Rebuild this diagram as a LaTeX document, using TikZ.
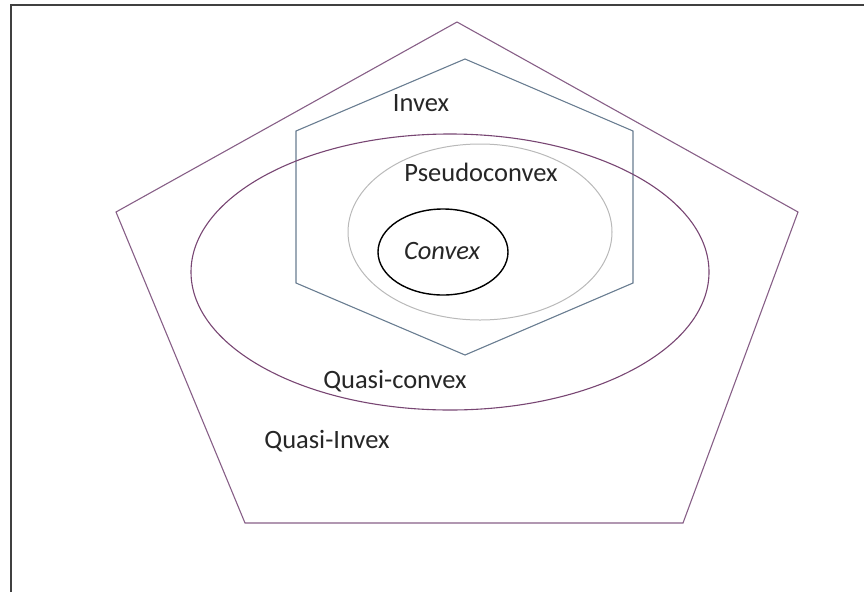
\documentclass[tikz,border=0pt]{standalone}
\usepackage{fontspec}
\setmainfont{Carlito}
\usepackage{xcolor}
\usepackage{tikz}

\definecolor{penta}{RGB}{135,95,135}
\definecolor{hexa}{RGB}{105,125,145}
\definecolor{quasi}{RGB}{120,70,115}
\definecolor{pseudo}{RGB}{185,185,185}

\begin{document}
\begin{tikzpicture}[x=1pt,y=-1pt,
    classname/.style={font=\fontsize{26.5}{31}\selectfont, text=black!85}]
    \useasboundingbox (0,0) rectangle (864,592);
    % Draw the frame (only top and left sides are visible)
    \draw [line width=2pt,black!75] (11,592) -- (11,5) -- (864,5);
    % Draw the pentagon for quasi-invex functions
    \draw [penta,line width=1.1pt] (457,22) coordinate (p_1)
        -- (798,212) coordinate (p_2)
        -- (683,523) coordinate (p_3)
        -- (245,523) coordinate (p_4)
        -- (116,212) coordinate (p_5) -- cycle;
    % Draw the hexagon for invex functions
    \draw [hexa,line width=1.1pt] (465,59) coordinate (h_1)
        -- (633,131) coordinate (h_2)
        -- (633,283) coordinate (h_3)
        -- (465,355) coordinate (h_4)
        -- (296,283) coordinate (h_5)
        -- (296,131) coordinate (h_6) -- cycle;
    % Draw the ellipses
    \draw [quasi,line width=1.1pt] (450,272) ellipse (259 and 138);
    \draw [pseudo,line width=1pt] (480,232) ellipse (132 and 88);
    \draw [black,line width=1.4pt] (443,252) ellipse (65 and 43);
    % Put the class names
    \node (invex) [classname] at (421,103) {Invex};
    \node (pseudoconvex) [classname] at (481,172) {Pseudoconvex};
    \node (convex) [classname] at (442,251) {\itshape Convex};
    \node (quasiconvex) [classname] at (395,381) {Quasi-convex};
    \node (quasiinvex) [classname] at (327,441) {Quasi-Invex};
\end{tikzpicture}
\end{document}
